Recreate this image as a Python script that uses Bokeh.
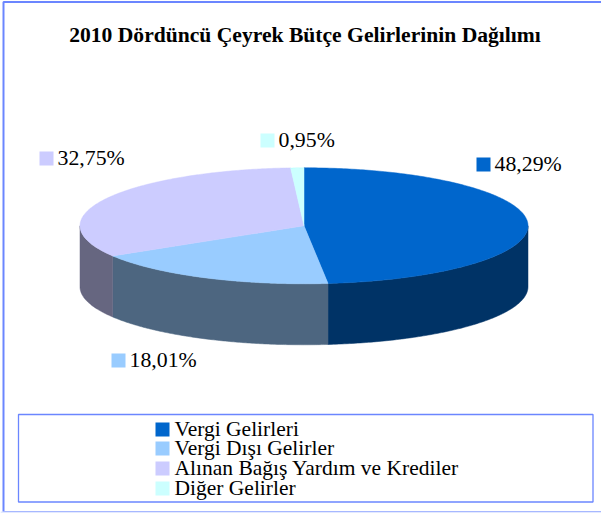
import numpy as np
from bokeh.plotting import figure
from bokeh.embed import file_html
from bokeh.resources import INLINE
from bokeh.core.properties import value

title = "2010 Dördüncü Çeyrek Bütçe Gelirlerinin Dağılımı"
categories = ["Vergi Gelirleri", "Vergi Dışı Gelirler", "Alınan Bağış Yardım ve Krediler", "Diğer Gelirler"]
shares = [48.29, 18.01, 32.75, 0.95]
share_labels = ["48,29%", "18,01%", "32,75%", "0,95%"]
top_colors = ["#0066CC", "#99CCFF", "#CCCCFF", "#CCFFFF"]
side_colors = ["#003366", "#4D6680", "#666680", "#668080"]

W, H = 601, 513
CX, CY, RX, RY, DEPTH = 303.5, 225.3, 224, 58, 61
SERIF = value("Liberation Serif")

p = figure(width=W, height=H, x_range=(0, W), y_range=(H, 0), output_backend="svg",
           toolbar_location=None, x_axis_location=None, y_axis_location=None,
           min_border=0, outline_line_color=None, background_fill_color="white",
           border_fill_color="white")
p.grid.visible = False
p.styles = {"position": "absolute", "left": "0px", "top": "0px"}

# frame and legend box
p.quad(left=[3], right=[700], top=[1.5], bottom=[511.5], fill_color=None, line_color="#6B86FF", line_width=2)
p.segment([0], [512], [W], [512], line_color="#E3E9FF", line_width=2)
p.quad(left=[18], right=[592.5], top=[414], bottom=[501.5], fill_color=None, line_color="#6B86FF", line_width=1.3)

def pt(theta, dy=0.0):
    return CX + RX * np.sin(theta), CY - RY * np.cos(theta) + dy

edges = 2 * np.pi * np.cumsum([0] + shares) / sum(shares)

# front wall of the disc, only the part facing the viewer
for a, b, c in zip(edges[:-1], edges[1:], side_colors):
    lo, hi = max(a, np.pi / 2), min(b, 3 * np.pi / 2)
    if hi <= lo:
        continue
    t = np.linspace(lo, hi, 120)
    x, y = pt(t)
    xb, yb = pt(t[::-1], DEPTH)
    p.patch(np.r_[x, xb], np.r_[y, yb], fill_color=c, line_color=c, line_width=0.5)

# top face
for a, b, c in zip(edges[:-1], edges[1:], top_colors):
    t = np.linspace(a, b, 240)
    x, y = pt(t)
    p.patch(np.r_[CX, x], np.r_[CY, y], fill_color=c, line_color=c, line_width=0.5)

# data labels
lab_x = [476, 111, 39, 260]
lab_y = [157, 353, 151, 133]
for lx, ly, c, s in zip(lab_x, lab_y, top_colors, share_labels):
    p.quad(left=[lx], right=[lx + 14], top=[ly], bottom=[ly + 14], fill_color=c, line_color=None)
    p.text(x=[lx + 18], y=[ly + 6.5], text=[s], text_font=SERIF, text_font_size="21.8px",
           text_color="black", text_align="left", text_baseline="middle")

# legend
leg_y = [422, 441, 461, 481]
for ly, c, s in zip(leg_y, top_colors, categories):
    p.quad(left=[155], right=[169], top=[ly], bottom=[ly + 14], fill_color=c, line_color=None)
    p.text(x=[174], y=[ly + 6], text=[s], text_font=SERIF, text_font_size="21.5px",
           text_color="black", text_align="left", text_baseline="middle")

p.text(x=[304.5], y=[34], text=[title], text_font=SERIF, text_font_size="21.6px", text_font_style="bold",
       text_color="black", text_align="center", text_baseline="middle")

open("out.html", "w").write(file_html(p, INLINE))
